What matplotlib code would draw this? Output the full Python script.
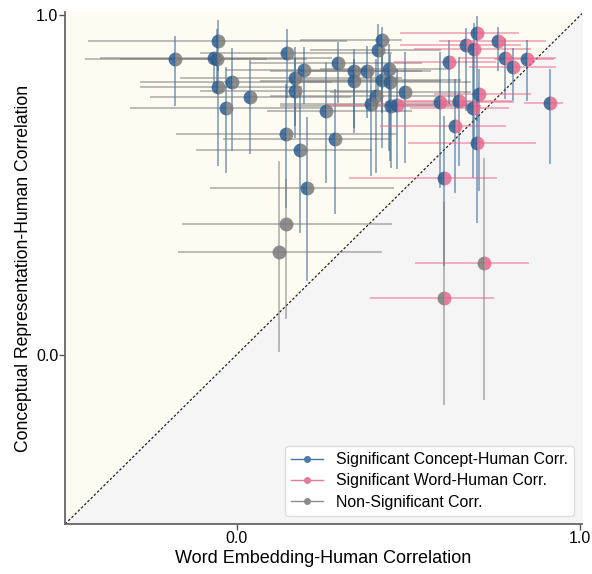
import numpy as np
import matplotlib.pyplot as plt
from matplotlib.lines import Line2D

plt.rcParams['font.family'] = ['Liberation Sans', 'DejaVu Sans']

# correlation of concept representation vs human (y) and word embedding vs human (x)
word_r = [-0.180, -0.055, -0.067, -0.058, -0.055, -0.015, -0.032, 0.038, 0.145, 0.169,
          0.169, 0.142, 0.183, 0.203, 0.195, 0.259, 0.285, 0.294, 0.340, 0.340,
          0.378, 0.410, 0.422, 0.422, 0.442, 0.445, 0.491, 0.404, 0.392, 0.448,
          0.465, 0.593, 0.619, 0.666, 0.692, 0.698, 0.762, 0.782, 0.805, 0.846,
          0.706, 0.648, 0.689, 0.634, 0.913, 0.698, 0.602,
          0.721, 0.602,
          0.142, 0.122]
concept_r = [0.871, 0.926, 0.874, 0.871, 0.788, 0.803, 0.726, 0.759, 0.888, 0.815,
             0.776, 0.650, 0.603, 0.491, 0.838, 0.718, 0.635, 0.859, 0.835, 0.806,
             0.835, 0.897, 0.929, 0.809, 0.841, 0.803, 0.774, 0.762, 0.738, 0.732,
             0.735, 0.744, 0.862, 0.912, 0.900, 0.947, 0.926, 0.874, 0.847, 0.871,
             0.768, 0.747, 0.726, 0.674, 0.741, 0.624, 0.521,
             0.271, 0.168,
             0.385, 0.303]
concept_lo = [0.735, 0.838, 0.800, 0.779, 0.559, 0.603, 0.538, 0.594, 0.759, 0.676,
              0.641, 0.435, 0.362, 0.221, 0.741, 0.509, 0.418, 0.744, 0.671, 0.656,
              0.700, 0.765, 0.715, 0.612, 0.603, 0.574, 0.568, 0.538, 0.529, 0.553,
              0.550, 0.494, 0.741, 0.721, 0.632, 0.691, 0.838, 0.756, 0.750, 0.750,
              0.485, 0.559, 0.524, 0.479, 0.565, 0.391, 0.265,
              -0.132, -0.147,
              0.109, 0.010]
concept_hi = [0.935, 0.985, 0.888, 0.956, 0.868, 0.900, 0.844, 0.865, 0.956, 0.903,
              0.868, 0.794, 0.771, 0.697, 0.903, 0.859, 0.779, 0.918, 0.897, 0.868,
              0.906, 0.971, 0.962, 0.912, 0.912, 0.882, 0.888, 0.868, 0.838, 0.824,
              0.838, 0.888, 0.926, 0.959, 0.976, 0.994, 0.962, 0.932, 0.900, 0.926,
              0.838, 0.874, 0.912, 0.809, 0.838, 0.750, 0.700,
              0.576, 0.447,
              0.515, 0.568]
word_lo = [-0.439, -0.430, -0.395, -0.337, -0.279, -0.279, -0.308, -0.250, -0.105, -0.163,
           -0.105, -0.174, -0.116, -0.076, -0.032, 0.090, -0.038, 0.041, 0.099, 0.070,
           0.186, 0.215, 0.186, 0.157, 0.244, 0.186, 0.273, 0.099, 0.128, 0.128,
           0.259, 0.433, 0.462, 0.477, 0.520, 0.477, 0.593, 0.651, 0.680, 0.753,
           0.578, 0.477, 0.506, 0.419, 0.840, 0.500, 0.331,
           0.523, 0.390,
           -0.157, -0.169]
word_hi = [0.084, 0.317, 0.273, 0.201, 0.186, 0.273, 0.273, 0.331, 0.448, 0.477,
           0.419, 0.462, 0.390, 0.456, 0.390, 0.506, 0.439, 0.535, 0.564, 0.593,
           0.535, 0.593, 0.477, 0.651, 0.622, 0.680, 0.680, 0.651, 0.680, 0.709,
           0.680, 0.805, 0.753, 0.826, 0.855, 0.820, 0.898, 0.927, 0.927, 0.922,
           0.855, 0.797, 0.791, 0.782, 0.948, 0.869, 0.756,
           0.849, 0.747,
           0.448, 0.419]
# 1 = significant
concept_sig = [1] * 47 + [0] * 4
word_sig = [0] * 30 + [1] * 19 + [0] * 2

blue = '#2b5d8f'
pink = '#e8668c'
gray = '#7a7a7a'

fig, ax = plt.subplots(figsize=(5.92, 5.74), dpi=100)
fig.subplots_adjust(left=0.11, right=0.983, bottom=0.087, top=0.979)

lo, hi = -0.5, 1.01
ax.fill_between([lo, hi], [lo, hi], [hi, hi], color='#fefcf2', zorder=0, lw=0)
ax.fill_between([lo, hi], [lo, lo], [lo, hi], color='#f5f5f6', zorder=0, lw=0)
ax.plot([lo, hi], [lo, hi], color='#222222', ls=(0, (2, 1.6)), lw=0.9, zorder=1)

for i in range(len(word_r)):
    cc = blue if concept_sig[i] else gray
    wc = pink if word_sig[i] else gray
    ax.plot([word_lo[i], word_hi[i]], [concept_r[i], concept_r[i]], color=wc, alpha=0.5, lw=1.4, zorder=2)
    ax.plot([word_r[i], word_r[i]], [concept_lo[i], concept_hi[i]], color=cc, alpha=0.5, lw=1.4, zorder=2)
for i in range(len(word_r)):
    cc = blue if concept_sig[i] else gray
    wc = pink if word_sig[i] else gray
    ax.plot(word_r[i], concept_r[i], 'o', fillstyle='left', markerfacecolor=cc,
            markerfacecoloralt=wc, markeredgewidth=0, ms=10, alpha=0.85, zorder=3)

ax.set_xlim(lo, 1.005)
ax.set_ylim(lo, hi)
ax.set_xticks([0.0, 1.0])
ax.set_yticks([0.0, 1.0])
ax.set_xticklabels(['0.0', '1.0'])
ax.set_yticklabels(['0.0', '1.0'])
ax.tick_params(labelsize=11.5, color='#555555', length=4, width=1, pad=1)
for s in ['top', 'right']:
    ax.spines[s].set_visible(False)
for s in ['left', 'bottom']:
    ax.spines[s].set_color('#666666')
    ax.spines[s].set_linewidth(1.3)
ax.set_xlabel('Word Embedding-Human Correlation', fontsize=13, labelpad=3)
ax.set_ylabel('Conceptual Representation-Human Correlation', fontsize=12.7, labelpad=3)

handles = [Line2D([], [], color='#4a79a8', marker='o', ms=4, lw=1),
           Line2D([], [], color='#e57a99', marker='o', ms=4, lw=1),
           Line2D([], [], color='#8c8c8c', marker='o', ms=4, lw=1)]
ax.legend(handles, ['Significant Concept-Human Corr.', 'Significant Word-Human Corr.',
                    'Non-Significant Corr.'], loc='lower right', fontsize=11.4,
          framealpha=1, edgecolor='#dddddd', borderaxespad=0.5, labelspacing=0.4)

plt.savefig('out.png', dpi=100)
